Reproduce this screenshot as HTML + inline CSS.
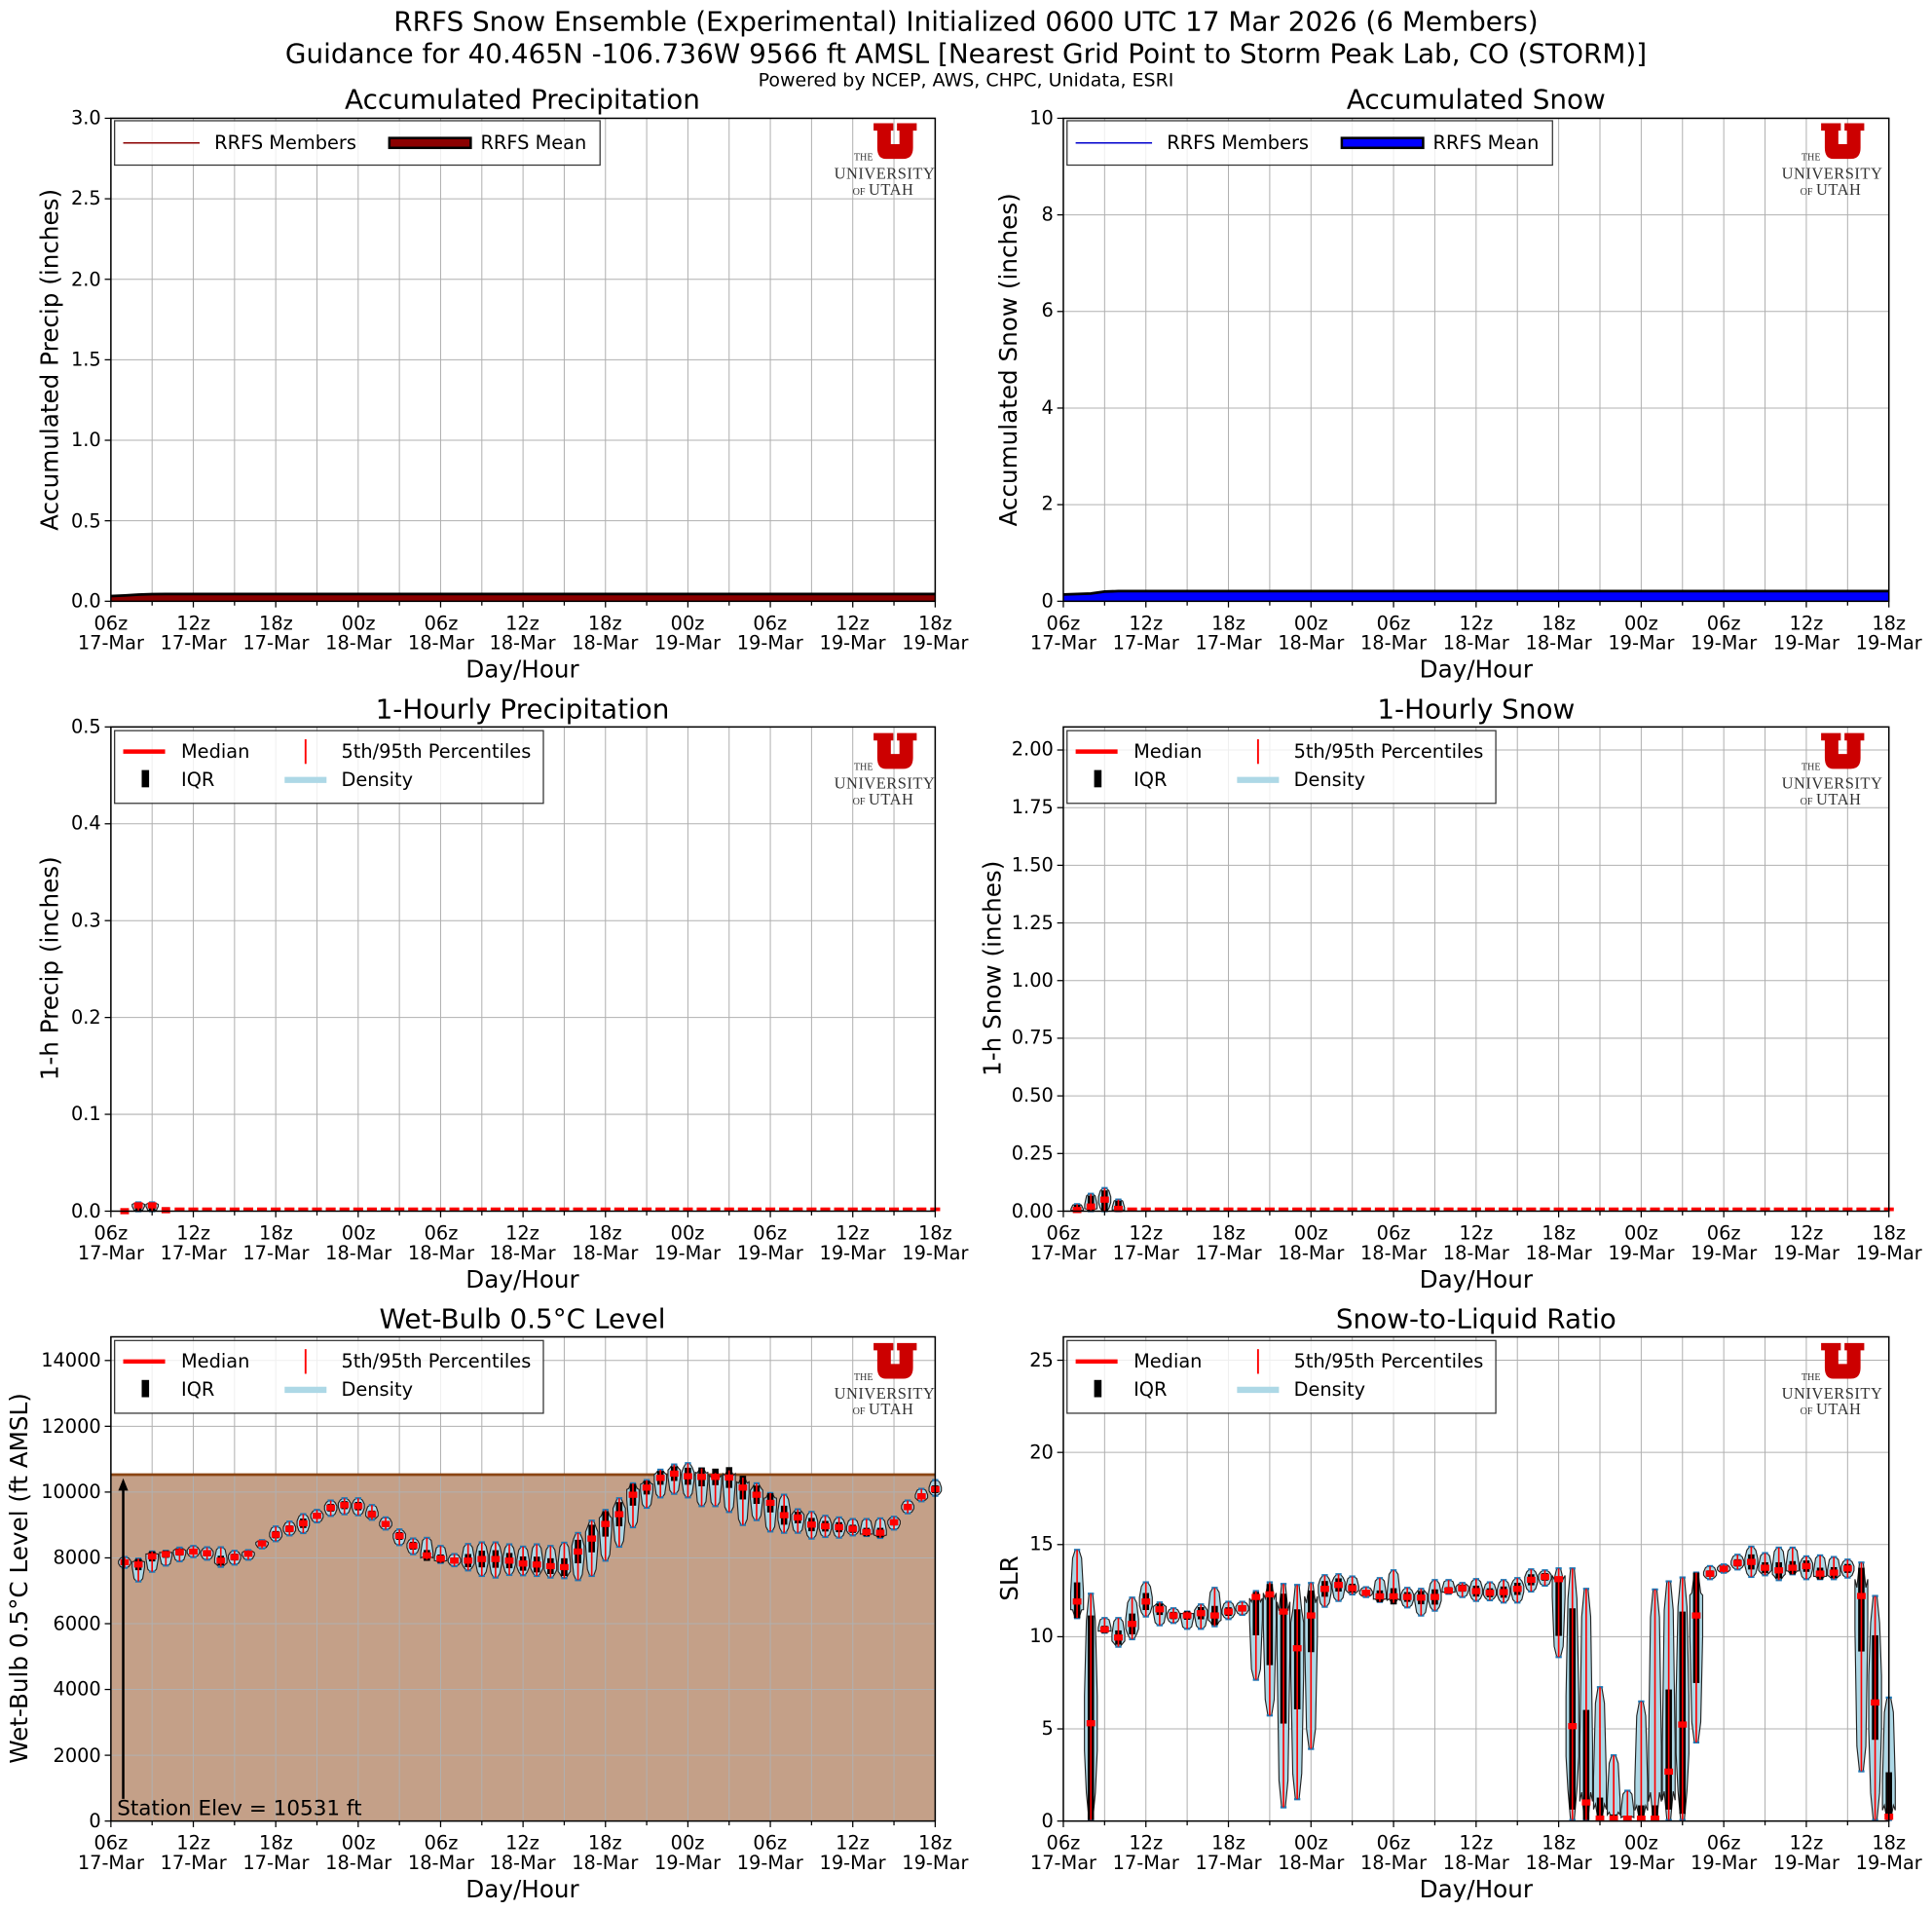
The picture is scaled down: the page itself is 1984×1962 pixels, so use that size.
<!DOCTYPE html>
<html><head><meta charset="utf-8"><style>
html,body{margin:0;padding:0;background:#fff;}
svg{display:block;}
text{font-family:"DejaVu Sans","Liberation Sans",sans-serif;fill:#000;}
.xl text{font-size:15.3px;text-anchor:middle;}
.yl text{font-size:15.3px;text-anchor:end;}
.ttl{font-size:22px;text-anchor:middle;}
.lab{font-size:19.5px;text-anchor:middle;}
.lg{font-size:15.3px;}
.serif{font-family:"Liberation Serif","DejaVu Serif",serif;fill:#333;}
</style></head><body>
<svg id="s" width="1984" height="1962" viewBox="0 0 1568 1551" preserveAspectRatio="none" xmlns="http://www.w3.org/2000/svg">
<rect x="0" y="0" width="1568" height="1551" fill="#fff"/>
<g id="plots"></g>

<text class="ttl" x="784" y="25">RRFS Snow Ensemble (Experimental) Initialized 0600 UTC 17 Mar 2026 (6 Members)</text>
<text class="ttl" x="784" y="51">Guidance for 40.465N -106.736W 9566 ft AMSL [Nearest Grid Point to Storm Peak Lab, CO (STORM)]</text>
<text x="784" y="70" style="font-size:15px;text-anchor:middle">Powered by NCEP, AWS, CHPC, Unidata, ESRI</text>

<text class="ttl" x="424" y="88">Accumulated Precipitation</text>
<text class="ttl" x="1198" y="88">Accumulated Snow</text>
<text class="ttl" x="424" y="583">1-Hourly Precipitation</text>
<text class="ttl" x="1198" y="583">1-Hourly Snow</text>
<text class="ttl" x="424" y="1078">Wet-Bulb 0.5°C Level</text>
<text class="ttl" x="1198" y="1078">Snow-to-Liquid Ratio</text>

<text class="lab" transform="translate(47,292) rotate(-90)">Accumulated Precip (inches)</text>
<text class="lab" transform="translate(825,292) rotate(-90)">Accumulated Snow (inches)</text>
<text class="lab" transform="translate(47,786) rotate(-90)">1-h Precip (inches)</text>
<text class="lab" transform="translate(812,786) rotate(-90)">1-h Snow (inches)</text>
<text class="lab" transform="translate(22,1281) rotate(-90)">Wet-Bulb 0.5°C Level (ft AMSL)</text>
<text class="lab" transform="translate(826,1281) rotate(-90)">SLR</text>

<text class="lab" x="424" y="550">Day/Hour</text>
<text class="lab" x="1198" y="550">Day/Hour</text>
<text class="lab" x="424" y="1045">Day/Hour</text>
<text class="lab" x="1198" y="1045">Day/Hour</text>
<text class="lab" x="424" y="1540">Day/Hour</text>
<text class="lab" x="1198" y="1540">Day/Hour</text>

<g class="yl">
<text x="82" y="493">0.0</text><text x="82" y="428">0.5</text><text x="82" y="362">1.0</text><text x="82" y="297">1.5</text><text x="82" y="232">2.0</text><text x="82" y="166">2.5</text><text x="82" y="101">3.0</text>
<text x="855" y="493">0</text><text x="855" y="414">2</text><text x="855" y="336">4</text><text x="855" y="257">6</text><text x="855" y="179">8</text><text x="855" y="101">10</text>
<text x="82" y="988">0.0</text><text x="82" y="909">0.1</text><text x="82" y="831">0.2</text><text x="82" y="752">0.3</text><text x="82" y="673">0.4</text><text x="82" y="595">0.5</text>
<text x="855" y="988">0.00</text><text x="855" y="941">0.25</text><text x="855" y="894">0.50</text><text x="855" y="847">0.75</text><text x="855" y="801">1.00</text><text x="855" y="754">1.25</text><text x="855" y="707">1.50</text><text x="855" y="660">1.75</text><text x="855" y="613">2.00</text>
<text x="82" y="1483">0</text><text x="82" y="1430">2000</text><text x="82" y="1376">4000</text><text x="82" y="1323">6000</text><text x="82" y="1269">8000</text><text x="82" y="1216">10000</text><text x="82" y="1163">12000</text><text x="82" y="1109">14000</text>
<text x="855" y="1483">0</text><text x="855" y="1408">5</text><text x="855" y="1333">10</text><text x="855" y="1258">15</text><text x="855" y="1184">20</text><text x="855" y="1109">25</text>
</g>

<g class="xl">
<text x="90" y="511">06z</text><text x="90" y="527">17-Mar</text>
<text x="157" y="511">12z</text><text x="157" y="527">17-Mar</text>
<text x="224" y="511">18z</text><text x="224" y="527">17-Mar</text>
<text x="291" y="511">00z</text><text x="291" y="527">18-Mar</text>
<text x="358" y="511">06z</text><text x="358" y="527">18-Mar</text>
<text x="424" y="511">12z</text><text x="424" y="527">18-Mar</text>
<text x="491" y="511">18z</text><text x="491" y="527">18-Mar</text>
<text x="558" y="511">00z</text><text x="558" y="527">19-Mar</text>
<text x="625" y="511">06z</text><text x="625" y="527">19-Mar</text>
<text x="692" y="511">12z</text><text x="692" y="527">19-Mar</text>
<text x="759" y="511">18z</text><text x="759" y="527">19-Mar</text>
<text x="863" y="511">06z</text><text x="863" y="527">17-Mar</text>
<text x="930" y="511">12z</text><text x="930" y="527">17-Mar</text>
<text x="997" y="511">18z</text><text x="997" y="527">17-Mar</text>
<text x="1064" y="511">00z</text><text x="1064" y="527">18-Mar</text>
<text x="1131" y="511">06z</text><text x="1131" y="527">18-Mar</text>
<text x="1198" y="511">12z</text><text x="1198" y="527">18-Mar</text>
<text x="1265" y="511">18z</text><text x="1265" y="527">18-Mar</text>
<text x="1332" y="511">00z</text><text x="1332" y="527">19-Mar</text>
<text x="1399" y="511">06z</text><text x="1399" y="527">19-Mar</text>
<text x="1466" y="511">12z</text><text x="1466" y="527">19-Mar</text>
<text x="1533" y="511">18z</text><text x="1533" y="527">19-Mar</text>
</g>
<g class="xl" transform="translate(0,495)">
<text x="90" y="511">06z</text><text x="90" y="527">17-Mar</text>
<text x="157" y="511">12z</text><text x="157" y="527">17-Mar</text>
<text x="224" y="511">18z</text><text x="224" y="527">17-Mar</text>
<text x="291" y="511">00z</text><text x="291" y="527">18-Mar</text>
<text x="358" y="511">06z</text><text x="358" y="527">18-Mar</text>
<text x="424" y="511">12z</text><text x="424" y="527">18-Mar</text>
<text x="491" y="511">18z</text><text x="491" y="527">18-Mar</text>
<text x="558" y="511">00z</text><text x="558" y="527">19-Mar</text>
<text x="625" y="511">06z</text><text x="625" y="527">19-Mar</text>
<text x="692" y="511">12z</text><text x="692" y="527">19-Mar</text>
<text x="759" y="511">18z</text><text x="759" y="527">19-Mar</text>
<text x="863" y="511">06z</text><text x="863" y="527">17-Mar</text>
<text x="930" y="511">12z</text><text x="930" y="527">17-Mar</text>
<text x="997" y="511">18z</text><text x="997" y="527">17-Mar</text>
<text x="1064" y="511">00z</text><text x="1064" y="527">18-Mar</text>
<text x="1131" y="511">06z</text><text x="1131" y="527">18-Mar</text>
<text x="1198" y="511">12z</text><text x="1198" y="527">18-Mar</text>
<text x="1265" y="511">18z</text><text x="1265" y="527">18-Mar</text>
<text x="1332" y="511">00z</text><text x="1332" y="527">19-Mar</text>
<text x="1399" y="511">06z</text><text x="1399" y="527">19-Mar</text>
<text x="1466" y="511">12z</text><text x="1466" y="527">19-Mar</text>
<text x="1533" y="511">18z</text><text x="1533" y="527">19-Mar</text>
</g>
<g class="xl" transform="translate(0,990)">
<text x="90" y="511">06z</text><text x="90" y="527">17-Mar</text>
<text x="157" y="511">12z</text><text x="157" y="527">17-Mar</text>
<text x="224" y="511">18z</text><text x="224" y="527">17-Mar</text>
<text x="291" y="511">00z</text><text x="291" y="527">18-Mar</text>
<text x="358" y="511">06z</text><text x="358" y="527">18-Mar</text>
<text x="424" y="511">12z</text><text x="424" y="527">18-Mar</text>
<text x="491" y="511">18z</text><text x="491" y="527">18-Mar</text>
<text x="558" y="511">00z</text><text x="558" y="527">19-Mar</text>
<text x="625" y="511">06z</text><text x="625" y="527">19-Mar</text>
<text x="692" y="511">12z</text><text x="692" y="527">19-Mar</text>
<text x="759" y="511">18z</text><text x="759" y="527">19-Mar</text>
<text x="863" y="511">06z</text><text x="863" y="527">17-Mar</text>
<text x="930" y="511">12z</text><text x="930" y="527">17-Mar</text>
<text x="997" y="511">18z</text><text x="997" y="527">17-Mar</text>
<text x="1064" y="511">00z</text><text x="1064" y="527">18-Mar</text>
<text x="1131" y="511">06z</text><text x="1131" y="527">18-Mar</text>
<text x="1198" y="511">12z</text><text x="1198" y="527">18-Mar</text>
<text x="1265" y="511">18z</text><text x="1265" y="527">18-Mar</text>
<text x="1332" y="511">00z</text><text x="1332" y="527">19-Mar</text>
<text x="1399" y="511">06z</text><text x="1399" y="527">19-Mar</text>
<text x="1466" y="511">12z</text><text x="1466" y="527">19-Mar</text>
<text x="1533" y="511">18z</text><text x="1533" y="527">19-Mar</text>
</g>

<text x="95" y="1473" style="font-size:17px">Station Elev = 10531 ft</text>

<g>
<rect x="93" y="98" width="394" height="36" fill="#fff" fill-opacity="0.8" stroke="#333" stroke-width="1"/>
<line x1="100" y1="116" x2="162" y2="116" stroke="#8b0000" stroke-width="1.2"/>
<text class="lg" x="174" y="121">RRFS Members</text>
<rect x="316" y="112" width="66" height="8" fill="#8b0000" stroke="#000" stroke-width="2"/>
<text class="lg" x="390" y="121">RRFS Mean</text>
<rect x="866" y="98" width="394" height="36" fill="#fff" fill-opacity="0.8" stroke="#333" stroke-width="1"/>
<line x1="873" y1="116" x2="935" y2="116" stroke="#0000cc" stroke-width="1.2"/>
<text class="lg" x="947" y="121">RRFS Members</text>
<rect x="1089" y="112" width="66" height="8" fill="#0000ff" stroke="#000" stroke-width="2"/>
<text class="lg" x="1163" y="121">RRFS Mean</text>
</g>
<g>
<rect x="93" y="593" width="348" height="59" fill="#fff" fill-opacity="0.8" stroke="#333" stroke-width="1"/>
<line x1="100" y1="610" x2="134" y2="610" stroke="red" stroke-width="3.5"/>
<text class="lg" x="147" y="615">Median</text>
<rect x="115" y="625" width="6" height="14" fill="#000"/>
<text class="lg" x="147" y="638">IQR</text>
<line x1="248" y1="600" x2="248" y2="620" stroke="red" stroke-width="1.5"/>
<text class="lg" x="277" y="615">5th/95th Percentiles</text>
<line x1="231" y1="633" x2="265" y2="633" stroke="#add8e6" stroke-width="5"/>
<text class="lg" x="277" y="638">Density</text>
</g>
<g transform="translate(773,0)">
<rect x="93" y="593" width="348" height="59" fill="#fff" fill-opacity="0.8" stroke="#333" stroke-width="1"/>
<line x1="100" y1="610" x2="134" y2="610" stroke="red" stroke-width="3.5"/>
<text class="lg" x="147" y="615">Median</text>
<rect x="115" y="625" width="6" height="14" fill="#000"/>
<text class="lg" x="147" y="638">IQR</text>
<line x1="248" y1="600" x2="248" y2="620" stroke="red" stroke-width="1.5"/>
<text class="lg" x="277" y="615">5th/95th Percentiles</text>
<line x1="231" y1="633" x2="265" y2="633" stroke="#add8e6" stroke-width="5"/>
<text class="lg" x="277" y="638">Density</text>
</g>
<g transform="translate(0,495)">
<rect x="93" y="593" width="348" height="59" fill="#fff" fill-opacity="0.8" stroke="#333" stroke-width="1"/>
<line x1="100" y1="610" x2="134" y2="610" stroke="red" stroke-width="3.5"/>
<text class="lg" x="147" y="615">Median</text>
<rect x="115" y="625" width="6" height="14" fill="#000"/>
<text class="lg" x="147" y="638">IQR</text>
<line x1="248" y1="600" x2="248" y2="620" stroke="red" stroke-width="1.5"/>
<text class="lg" x="277" y="615">5th/95th Percentiles</text>
<line x1="231" y1="633" x2="265" y2="633" stroke="#add8e6" stroke-width="5"/>
<text class="lg" x="277" y="638">Density</text>
</g>
<g transform="translate(773,495)">
<rect x="93" y="593" width="348" height="59" fill="#fff" fill-opacity="0.8" stroke="#333" stroke-width="1"/>
<line x1="100" y1="610" x2="134" y2="610" stroke="red" stroke-width="3.5"/>
<text class="lg" x="147" y="615">Median</text>
<rect x="115" y="625" width="6" height="14" fill="#000"/>
<text class="lg" x="147" y="638">IQR</text>
<line x1="248" y1="600" x2="248" y2="620" stroke="red" stroke-width="1.5"/>
<text class="lg" x="277" y="615">5th/95th Percentiles</text>
<line x1="231" y1="633" x2="265" y2="633" stroke="#add8e6" stroke-width="5"/>
<text class="lg" x="277" y="638">Density</text>
</g>

<g id="logos"></g>
</svg>
<script>
(function(){
var NS="http://www.w3.org/2000/svg";
var G=document.getElementById("plots");
function el(t,a,p){var e=document.createElementNS(NS,t);for(var k in a)e.setAttribute(k,a[k]);(p||G).appendChild(e);return e;}
// logo shapes (U only; text is static below via clones of shapes not text)
var L=document.getElementById("logos");
var offs=[[0,0],[769,0],[0,495],[769,495],[0,990],[769,990]];
offs.forEach(function(o){
 el("path",{d:"M709,100 H725 V106 H723 V117 H730 V106 H728 V100 H744 V106 H741 V120 Q741,129 733,129 H719 Q712,129 712,120 V106 H709 Z",fill:"#cc0000",transform:"translate("+o[0]+","+o[1]+")"},L);
});
var P={
A:{x0:90,x1:759,y0:96,y1:488,max:3,step:0.5,n:6},
B:{x0:863,x1:1533,y0:96,y1:488,max:10,step:2,n:5},
C:{x0:90,x1:759,y0:590,y1:983,max:0.5,step:0.1,n:5},
D:{x0:863,x1:1533,y0:590,y1:983,max:2.1,step:0.25,n:8},
E:{x0:90,x1:759,y0:1085,y1:1478,max:14719,step:2000,n:7},
F:{x0:863,x1:1533,y0:1085,y1:1478,max:26.27,step:5,n:5}
};
function X(p,h){return p.x0+(p.x1-p.x0)*h/60;}
function Y(p,v){return p.y1-(p.y1-p.y0)*v/p.max;}
var bg=el("g",{}),fg=el("g",{}),ax=el("g",{});
var E=P.E,yb=Y(E,10531);
el("rect",{x:E.x0,y:yb,width:E.x1-E.x0,height:E.y1-yb,fill:"#c4a088"},bg);
for(var k in P){var p=P[k];
 for(var h=0;h<=60;h+=3){var x=X(p,h);
  el("line",{x1:x,y1:p.y0,x2:x,y2:p.y1,stroke:"#b0b0b0","stroke-width":0.8},bg);
  el("line",{x1:x,y1:p.y1,x2:x,y2:p.y1+(h%6==0?5:3.5),stroke:"#000","stroke-width":1},ax);}
 for(var i=0;i<=p.n;i++){var y=Y(p,i*p.step);
  el("line",{x1:p.x0,y1:y,x2:p.x1,y2:y,stroke:"#b0b0b0","stroke-width":0.8},bg);
  el("line",{x1:p.x0-5,y1:y,x2:p.x0,y2:y,stroke:"#000","stroke-width":1},ax);}
 el("rect",{x:p.x0,y:p.y0,width:p.x1-p.x0,height:p.y1-p.y0,fill:"none",stroke:"#000","stroke-width":1.2},ax);
}
el("line",{x1:E.x0,y1:yb,x2:E.x1,y2:yb,stroke:"#8b4513","stroke-width":2.2},bg);
function acc(p,vals,fill){
 var d="M"+p.x0+","+p.y1;var top="";
 for(var h=0;h<=60;h++){var v=h<vals.length?vals[h]:vals[vals.length-1];d+=" L"+X(p,h)+","+Y(p,v);top+=(h?" L":"M")+X(p,h)+","+Y(p,v);}
 d+=" L"+p.x1+","+p.y1+"Z";
 el("path",{d:d,fill:fill},fg);
 el("path",{d:top,fill:"none",stroke:"#000","stroke-width":2.2},fg);
}
acc(P.A,[0.032,0.036,0.041,0.044,0.045],"#8b0000");
acc(P.B,[0.14,0.15,0.16,0.2,0.21],"#0000ff");
function vio(x,hi,lo,q1,q3,med,w){
 w=w||5;var d=lo-hi;var pts;
 if(d<3){pts=[[x-w*0.5,hi],[x+w*0.5,hi],[x+w*0.6,lo],[x-w*0.6,lo]];}
 else{
  var m=Math.min(Math.max(med,hi+d*0.2),lo-d*0.2);
  pts=[[x-1.5,hi],[x+1.5,hi],[x+w*0.7,hi+d*0.12],[x+w,m-d*0.12],[x+w,m+d*0.12],[x+w*0.7,lo-d*0.12],[x+1.5,lo],[x-1.5,lo],[x-w*0.7,lo-d*0.12],[x-w,m+d*0.12],[x-w,m-d*0.12],[x-w*0.7,hi+d*0.12]];
 }
 el("polygon",{points:pts.map(function(a){return a.join(",")}).join(" "),fill:"#add8e6",stroke:"#222","stroke-width":0.9},fg);
 el("line",{x1:x-2.5,y1:hi,x2:x+2.5,y2:hi,stroke:"#1f77b4","stroke-width":1.8},fg);
 el("line",{x1:x-2.5,y1:lo,x2:x+2.5,y2:lo,stroke:"#1f77b4","stroke-width":1.8},fg);
 el("rect",{x:x-2.6,y:Math.min(q1,q3),width:5.2,height:Math.max(1,Math.abs(q3-q1)),fill:"#000"},fg);
 el("line",{x1:x,y1:hi,x2:x,y2:lo,stroke:"red","stroke-width":1.3},fg);
 el("rect",{x:x-3.5,y:med-2.5,width:7,height:5,fill:"red"},fg);
}
function zd(z){return (1480+z/3)/1.2653;}
var slr={1:[494,335,545,435,545],2:[869,470,1167,537,1167],3:[580,545,590],4:[605,545,633],5:[563,482,610],6:[494,435,540],7:[518,497,567],8:[537,515,560],9:[537,525,578],10:[530,503,578],11:[537,452,570],12:[525,495,548],13:[515,495,535],14:[480,462,735,465,598],15:[472,435,845,440,690],16:[525,440,1128,470,870],17:[638,443,1103,518,826],18:[537,437,948,460,650],19:[455,413,510],20:[443,410,492],21:[453,417,472],22:[467,450,480],23:[478,422,495],24:[478,398,498],25:[480,452,512],26:[482,455,537],27:[480,428,522],28:[460,428,470],29:[453,437,480],30:[462,425,492],31:[467,435,490],32:[465,428,497],33:[455,422,497],34:[427,395,463],35:[418,398,445],36:[425,392,665,420,600],37:[878,392,1167,515,1135],38:[1113,455,1167,828,1167],39:[1163,758,1167,1098,1167],40:[1163,968,1167,1150,1167],41:[1163,1077,1167,1155,1167],42:[1163,802,1167,1122,1167],43:[1163,457,1167,1122,1167],44:[1018,432,1167,765,1135],45:[873,420,1167,525,1148],46:[537,405,928,405,745],47:[408,385,425],48:[393,380,405],49:[375,350,395],50:[372,325,418],51:[390,345,413],52:[398,328,428],53:[390,328,410],54:[385,355,425],55:[408,352,425],56:[405,357,425],57:[392,365,420],58:[477,374,1017,390,648],59:[805,477,1167,598,920],60:[1157,790,1167,1020,1167]};
for(var h=1;h<=60;h++){var a=slr[h];var r=a[2]-a[1];
 var q1=a.length>3?a[3]:a[0]-r*0.25, q3=a.length>3?a[4]:a[0]+r*0.25;
 vio(X(P.F,h),zd(a[1]),zd(a[2]),zd(q1),zd(q3),zd(a[0]),5.2);}
var wb=[null,[373,357,390],[380,362,432],[355,340,402],[348,338,383],[342,328,370],[340,323,357],[345,327,365],[368,327,387],[357,338,380],[347,336,365],[315,305,330],[288,263,308],[270,248,290],[253,225,283],[230,212,250],[205,183,230],[197,176,225],[200,176,228],[225,197,242],[255,235,272],[292,272,320],[322,300,348],[352,298,365],[362,323,375],[368,348,385],[368,317,398],[363,312,415],[363,312,420],[368,318,412],[377,325,413],[380,318,415],[385,323,420],[388,313,422],[340,283,428],[300,245,415],[255,212,368],[225,176,325],[165,130,265],[143,120,205],[113,88,173],[100,72,162],[108,68,173],[110,84,200],[110,98,200],[112,90,218],[143,112,258],[165,130,243],[190,160,278],[228,165,282],[235,210,282],[257,218,300],[262,230,295],[265,235,297],[270,240,290],[280,240,292],[282,238,298],[250,233,272],[203,183,222],[170,147,185],[148,120,168]];
for(var h=1;h<=60;h++){var a=wb[h];var r=a[2]-a[1];
 vio(X(P.E,h),zd(a[1]),zd(a[2]),zd(a[0]-r*0.25),zd(a[0]+r*0.25),zd(a[0]),5);}
el("line",{x1:100,y1:1460,x2:100,y2:yb+8,stroke:"#000","stroke-width":2},fg);
el("polygon",{points:"100,"+(yb+3)+" 96,"+(yb+13)+" 104,"+(yb+13),fill:"#000"},fg);
var C=P.C,D=P.D;
var cv={1:[0,0.001],2:[0,0.009,0.006],3:[0,0.009,0.006],4:[0,0.003,0.001]};
for(var h=1;h<=60;h++){
 if(cv[h]){var a=cv[h];vio(X(C,h),Y(C,a[1]),Y(C,0),Y(C,a[1]*0.8),Y(C,0),Y(C,a[2]||0),5);}
 else el("rect",{x:X(C,h)-4,y:C.y1-3,width:8,height:3,fill:"red"},fg);
}
var dv={1:[0.03,0.005],2:[0.075,0.02],3:[0.1,0.05],4:[0.05,0.01]};
for(var h=1;h<=60;h++){
 if(dv[h]){var a=dv[h];vio(X(D,h),Y(D,a[0]),Y(D,0),Y(D,a[0]*0.9),Y(D,0),Y(D,a[1]),5);}
 else el("rect",{x:X(D,h)-4,y:D.y1-3,width:8,height:3,fill:"red"},fg);
}
G.appendChild(ax);
})();
</script>
<svg width="0" height="0" style="position:absolute"></svg>
<div style="position:absolute;left:0;top:0;width:1984px;height:1962px;pointer-events:none">
<svg width="1984" height="1962" viewBox="0 0 1568 1551" preserveAspectRatio="none" xmlns="http://www.w3.org/2000/svg">
<g><text class="serif" x="693" y="130" style="font-size:8px">THE</text><text class="serif" x="677" y="145" style="font-size:13px;letter-spacing:0.4px">UNIVERSITY</text><text class="serif" x="692" y="158" style="font-size:8px">OF</text><text class="serif" x="705" y="158" style="font-size:13px;letter-spacing:0.4px">UTAH</text></g>
<g transform="translate(769,0)"><text class="serif" x="693" y="130" style="font-size:8px">THE</text><text class="serif" x="677" y="145" style="font-size:13px;letter-spacing:0.4px">UNIVERSITY</text><text class="serif" x="692" y="158" style="font-size:8px">OF</text><text class="serif" x="705" y="158" style="font-size:13px;letter-spacing:0.4px">UTAH</text></g>
<g transform="translate(0,495)"><text class="serif" x="693" y="130" style="font-size:8px">THE</text><text class="serif" x="677" y="145" style="font-size:13px;letter-spacing:0.4px">UNIVERSITY</text><text class="serif" x="692" y="158" style="font-size:8px">OF</text><text class="serif" x="705" y="158" style="font-size:13px;letter-spacing:0.4px">UTAH</text></g>
<g transform="translate(769,495)"><text class="serif" x="693" y="130" style="font-size:8px">THE</text><text class="serif" x="677" y="145" style="font-size:13px;letter-spacing:0.4px">UNIVERSITY</text><text class="serif" x="692" y="158" style="font-size:8px">OF</text><text class="serif" x="705" y="158" style="font-size:13px;letter-spacing:0.4px">UTAH</text></g>
<g transform="translate(0,990)"><text class="serif" x="693" y="130" style="font-size:8px">THE</text><text class="serif" x="677" y="145" style="font-size:13px;letter-spacing:0.4px">UNIVERSITY</text><text class="serif" x="692" y="158" style="font-size:8px">OF</text><text class="serif" x="705" y="158" style="font-size:13px;letter-spacing:0.4px">UTAH</text></g>
<g transform="translate(769,990)"><text class="serif" x="693" y="130" style="font-size:8px">THE</text><text class="serif" x="677" y="145" style="font-size:13px;letter-spacing:0.4px">UNIVERSITY</text><text class="serif" x="692" y="158" style="font-size:8px">OF</text><text class="serif" x="705" y="158" style="font-size:13px;letter-spacing:0.4px">UTAH</text></g>
</svg>
</div>
</body></html>
